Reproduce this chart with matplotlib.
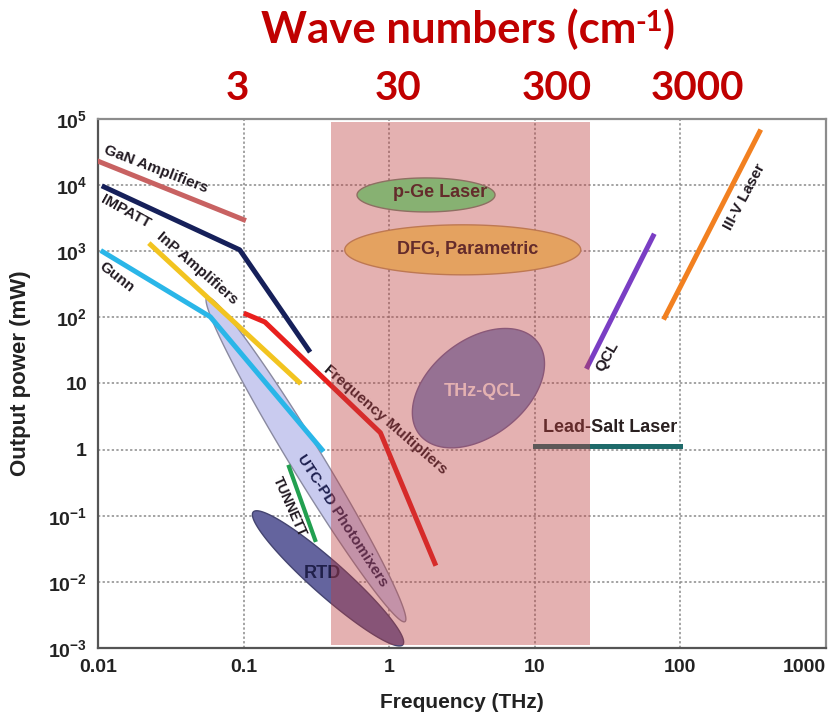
import numpy as np
import matplotlib
matplotlib.use("Agg")
import matplotlib.pyplot as plt
from matplotlib.ticker import NullLocator
from matplotlib.transforms import blended_transform_factory

plt.rcParams['mathtext.fontset'] = 'custom'
plt.rcParams['mathtext.rm'] = 'Liberation Sans:bold'
plt.rcParams['mathtext.it'] = 'Liberation Sans:bold'
plt.rcParams['mathtext.bf'] = 'Liberation Sans:bold'

# source lines: frequency (THz) and output power (mW)
gan_f = [0.01, 0.1]
gan_p = [2.3e4, 3.0e3]
impatt_f = [0.011, 0.094, 0.28]
impatt_p = [9.4e3, 1.05e3, 32]
inp_f = [0.023, 0.24]
inp_p = [1250, 10.5]
gunn_f = [0.0108, 0.059, 0.345]
gunn_p = [980, 102, 1.0]
fmult_f = [0.104, 0.14, 0.87, 2.06]
fmult_p = [112, 85, 1.8, 0.019]
tunnett_f = [0.205, 0.31]
tunnett_p = [0.55, 0.043]
qcl_f = [23, 65]
qcl_p = [18, 1700]
iiiv_f = [78, 350]
iiiv_p = [100, 6.4e4]
leadsalt_f = [10, 100]
leadsalt_p = [1.15, 1.15]

# source regions: centre frequency (THz), centre power (mW)
pge_c = (1.79, 7100)
dfg_c = (3.2, 1050)
thzqcl_c = (4.1, 8.5)
rtd_c = (0.38, 0.0113)
utcpd_c = (0.268, 0.71)

# THz gap band (THz)
gap_band = (0.40, 24.0)

xticks = [0.01, 0.1, 1, 10, 100, 1000]
xticklabels = ['0.01', '0.1', '1', '10', '100', '1000']
yticks = [1e-3, 1e-2, 1e-1, 1, 10, 1e2, 1e3, 1e4, 1e5]
yticklabels = ['$10^{-3}$', '$10^{-2}$', '$10^{-1}$', '1', '10',
               '$10^{2}$', '$10^{3}$', '$10^{4}$', '$10^{5}$']

wn_labels = ['3', '30', '300', '3000']
wn_pos = [0.09, 1.15, 14.2, 130]

fig = plt.figure(figsize=(8.32, 7.18), dpi=100)
ax = fig.add_axes([0.1178, 0.0975, 0.875, 0.7368])
ax.set_xscale('log')
ax.set_yscale('log')
ax.set_xlim(0.01, 1000)
ax.set_ylim(1e-3, 1e5)
ax.set_xticks(xticks)
ax.set_xticklabels(xticklabels)
ax.set_yticks(yticks)
ax.set_yticklabels(yticklabels)
ax.xaxis.set_minor_locator(NullLocator())
ax.yaxis.set_minor_locator(NullLocator())
ax.tick_params(length=0, pad=8, labelsize=14, labelcolor='#222222')
for lab in ax.get_xticklabels() + ax.get_yticklabels():
    lab.set_fontfamily('Liberation Sans')
    lab.set_fontweight('bold')
ax.get_xticklabels()[-1].set_horizontalalignment('right')
ax.set_axisbelow(True)
ax.grid(True, which='major', color='#8a8a8a', lw=1.1, ls=(0, (1.5, 1.5)))
for s in ax.spines.values():
    s.set_color('#8c8c8c')
    s.set_linewidth(1.6)
ax.spines['left'].set_color('#555555')
ax.spines['bottom'].set_color('#555555')

ax.set_xlabel('Frequency (THz)', fontsize=15, fontweight='bold',
              family='Liberation Sans', color='#222222', labelpad=12)
ax.set_ylabel('Output power (mW)', fontsize=16, fontweight='bold',
              family='Liberation Sans', color='#222222')
ax.yaxis.set_label_coords(-0.092, 0.52)


def ellipse(center, a, b, ang, n=240):
    # ellipse built in screen pixels, mapped back to data coords
    cx, cy = ax.transData.transform(center)
    t = np.linspace(0, 2 * np.pi, n)
    th = np.deg2rad(ang)
    ex, ey = a * np.cos(t), b * np.sin(t)
    x = cx + ex * np.cos(th) - ey * np.sin(th)
    y = cy + ex * np.sin(th) + ey * np.cos(th)
    pts = ax.transData.inverted().transform(np.column_stack([x, y]))
    return pts[:, 0], pts[:, 1]


ex, ey = ellipse(utcpd_c, 190, 16, -58.6)
ax.fill(ex, ey, facecolor='#c9cbef', edgecolor='#8a8aa0', lw=1, zorder=2)
ex, ey = ellipse(rtd_c, 100, 17, -41.6)
ax.fill(ex, ey, facecolor='#64649e', edgecolor='#444470', lw=1, zorder=2.5)
ex, ey = ellipse(pge_c, 69, 17, 0)
ax.fill(ex, ey, facecolor='#64ff96', edgecolor='#70907a', lw=1, zorder=2)
ex, ey = ellipse(dfg_c, 118, 25, 0)
ax.fill(ex, ey, facecolor='#ffe678', edgecolor='#c0a060', lw=1, zorder=2)
ex, ey = ellipse(thzqcl_c, 75, 48, 38)
ax.fill(ex, ey, facecolor='#7d94cc', edgecolor='#6a6aa0', lw=1, zorder=2)

lw = 3.6
ax.plot(gan_f, gan_p, color='#c86262', lw=lw, zorder=3)
ax.plot(impatt_f, impatt_p, color='#16205a', lw=lw, zorder=3)
ax.plot(gunn_f, gunn_p, color='#2ab6e8', lw=lw, zorder=3.2)
ax.plot(inp_f, inp_p, color='#f2c420', lw=lw, zorder=3.1)
ax.plot(fmult_f, fmult_p, color='#e8201e', lw=lw, zorder=3)
ax.plot(tunnett_f, tunnett_p, color='#22a050', lw=3, zorder=3)
ax.plot(qcl_f, qcl_p, color='#7a3ec4', lw=lw, zorder=3)
ax.plot(iiiv_f, iiiv_p, color='#f28020', lw=lw, zorder=3)
ax.plot(leadsalt_f, leadsalt_p, color='#1e6a6a', lw=lw, zorder=3)

lab = dict(family=['Liberation Sans Narrow', 'Liberation Sans'],
           fontweight='bold', ha='center', va='center', zorder=4,
           rotation_mode='anchor')
dark = '#221a22'
ax.text(0.025, 1.77e4, 'GaN Amplifiers', rotation=-21, fontsize=11, color=dark, **lab)
ax.text(0.0156, 3.95e3, 'IMPATT', rotation=-29, fontsize=11, color=dark, **lab)
ax.text(0.048, 561, 'InP Amplifiers', rotation=-41, fontsize=11, color=dark, **lab)
ax.text(0.0135, 410, 'Gunn', rotation=-38, fontsize=11, color=dark, **lab)
ax.text(0.935, 2.81, 'Frequency Multipliers', rotation=-41, fontsize=11, color=dark, **lab)
ax.text(0.474, 0.083, 'UTC-PD Photomixers', rotation=-57, fontsize=11, color='#1e2050', **lab)
ax.text(0.208, 0.136, 'TUNNETT', rotation=-66, fontsize=10, color=dark, **lab)
ax.text(0.35, 0.0136, 'RTD', fontsize=13, color='#20204a', **lab)
ax.text(4.33, 7.46, 'THz-QCL', fontsize=13, color='white', **lab)
ax.text(2.23, 7660, 'p-Ge Laser', fontsize=13, color='#2a2020', **lab)
ax.text(3.47, 1050, 'DFG, Parametric', fontsize=13, color='#2a2020', **lab)
ax.text(32.8, 2.13, 'Lead-Salt Laser', fontsize=13, color='#2a2020', **lab)
ax.text(31.3, 25.2, 'QCL', rotation=60, fontsize=11, color=dark, **lab)
ax.text(278, 6650, 'III-V Laser', rotation=62, fontsize=11, color=dark, **lab)

# translucent band over the THz gap
ax.axvspan(gap_band[0], gap_band[1], ymin=0.006, ymax=0.994,
           facecolor='#bc3e3e', alpha=0.4, lw=0, zorder=10)

red = '#c00000'
top = dict(family=['Lato', 'DejaVu Sans'], fontweight='bold', color=red)
t1 = fig.text(261 / 832, 1 - 43 / 718, 'Wave numbers (cm', fontsize=31.5,
              ha='left', va='baseline', **top)
t2 = ax.annotate('-1', xy=(1.0, 0.95), xycoords=t1, xytext=(-1, 0),
                 textcoords='offset points', fontsize=21,
                 ha='left', va='top', annotation_clip=False, **top)
ax.annotate(')', xy=(1.0, 0.0), xycoords=(t2, t1), fontsize=31.5,
            ha='left', va='bottom', annotation_clip=False, **top)
trans = blended_transform_factory(ax.transData, fig.transFigure)
for w, xp in zip(wn_labels, wn_pos):
    fig.text(xp, 1 - 100 / 718, w, transform=trans, fontsize=29,
             ha='center', va='baseline', **top)

fig.savefig('out.png', dpi=100)
